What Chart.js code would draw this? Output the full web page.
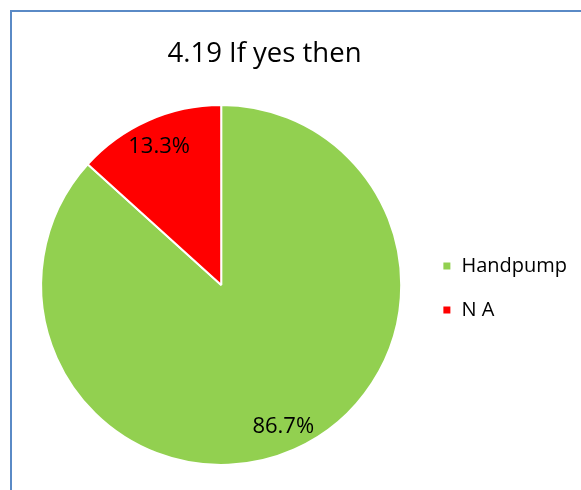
<!DOCTYPE html>
<html>
<head>
<meta charset="utf-8">
<script src="https://cdn.jsdelivr.net/npm/chart.js@4/dist/chart.umd.min.js"></script>
<style>
html,body{margin:0;padding:0;background:#fff;overflow:hidden;width:581px;height:490px;}
#frame{position:absolute;left:10px;top:10px;width:620px;height:520px;border:2px solid #5a8ac6;box-sizing:border-box;}
#c{position:absolute;left:0;top:0;}
</style>
</head>
<body>
<div id="frame"></div>
<canvas id="c" width="581" height="490"></canvas>
<script>
const titleText = '4.19 If yes then';
const categories = ['Handpump', 'N A'];
const values = [86.7, 13.3];
const colors = ['#92d050', '#ff0000'];

const pctLabels = {
  id: 'pctLabels',
  afterDatasetsDraw(chart) {
    const ctx = chart.ctx;
    const meta = chart.getDatasetMeta(0);
    ctx.save();
    ctx.font = '22px "Open Sans"';
    ctx.fillStyle = '#000';
    ctx.textAlign = 'center';
    ctx.textBaseline = 'middle';
    meta.data.forEach((arc, i) => {
      const p = arc.getProps(['x', 'y', 'startAngle', 'endAngle', 'outerRadius'], true);
      const mid = (p.startAngle + p.endAngle) / 2;
      const r = p.outerRadius * 0.85;
      ctx.fillText(values[i].toFixed(1) + '%', p.x + Math.cos(mid) * r, p.y + Math.sin(mid) * r + 1.5);
    });
    ctx.restore();
  }
};

// centre the title over the plot + legend region like the original
const titleShift = {
  id: 'titleShift',
  afterLayout(chart) {
    if (chart.titleBlock) {
      chart.titleBlock.left = 0;
      chart.titleBlock.right = 529;
    }
  }
};

new Chart(document.getElementById('c'), {
  type: 'pie',
  data: {
    labels: categories,
    datasets: [{
      data: values,
      backgroundColor: colors,
      borderColor: '#ffffff',
      borderWidth: 2
    }]
  },
  options: {
    responsive: false,
    animation: false,
    layout: { padding: { left: 24, right: 4, top: 0, bottom: 24 } },
    plugins: {
      title: {
        display: true,
        text: titleText,
        color: '#000',
        font: { family: '"Open Sans"', size: 27.5, weight: 'normal', lineHeight: 1.2 },
        padding: { top: 37.5, bottom: 33.5 }
      },
      legend: {
        position: 'right',
        fullSize: false,
        title: {
          display: true,
          text: '',
          font: { size: 1, lineHeight: 1 },
          padding: { top: 2.5, bottom: 2.5 }
        },
        labels: {
          color: '#000',
          font: { family: '"Open Sans"', size: 20 },
          boxWidth: 9,
          boxHeight: 9,
          padding: 24
        }
      },
      tooltip: { enabled: false }
    }
  },
  plugins: [pctLabels, titleShift]
});
</script>
</body>
</html>
